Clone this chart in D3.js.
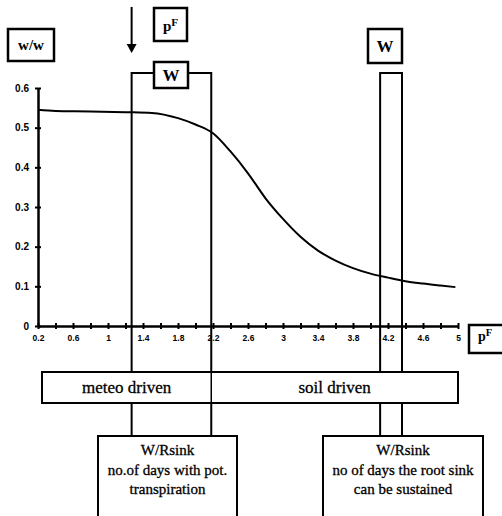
<!DOCTYPE html>
<html><head><meta charset="utf-8">
<script src="https://cdn.jsdelivr.net/npm/d3@7/dist/d3.min.js"></script>
<style>body{margin:0;background:#fff}svg{display:block}</style>
</head><body>
<script>
// ---- data ----
const pF = [0.2,0.4,0.8,1.2,1.5,1.8,2.0,2.2,2.4,2.6,2.8,3.0,3.2,3.4,3.6,3.8,4.0,4.2,4.4,4.6,4.8,4.97];
const ww = [0.545,0.542,0.541,0.539,0.537,0.524,0.508,0.486,0.44,0.385,0.322,0.27,0.225,0.19,0.165,0.146,0.132,0.122,0.113,0.107,0.102,0.098];
const xTickValues = d3.range(0,25).map(i => +(0.2 + i*0.2).toFixed(1));
const xTickLabels = ["0.2","0.6","1","1.4","1.8","2.2","2.6","3","3.4","3.8","4.2","4.6","5"];
const yTickValues = [0,0.1,0.2,0.3,0.4,0.5,0.6];
const yTickLabels = ["0","0.1","0.2","0.3","0.4","0.5","0.6"];
const wWindows = [[1.27,2.18],[4.11,4.36]];   // pF ranges of the two W windows
const bandSplit = 2.18;
const bandLabels = ["meteo driven","soil driven"];
const leftBoxLines = ["W/Rsink","no.of days with pot.","transpiration"];
const rightBoxLines = ["W/Rsink","no of days the root sink","can be sustained"];

const W = 502, H = 516;
const svg = d3.select("body").append("svg").attr("width",W).attr("height",H);
const x = d3.scaleLinear().domain([0.2,5.0]).range([38,458]);
const y = d3.scaleLinear().domain([0,0.6]).range([326,88]);
const serif = "'Liberation Serif','Times New Roman',serif";
const sans = "'Liberation Sans',Arial,sans-serif";

const topY = 73, botY = 436;
wWindows.forEach(([a,b]) => {
  svg.append("path")
    .attr("d", `M${x(a)},${botY}V${topY}H${x(b)}V${botY}`)
    .attr("fill","none").attr("stroke","#000").attr("stroke-width",2);
});

const gx = svg.append("g").attr("transform",`translate(0,${y(0)})`)
  .call(d3.axisBottom(x).tickValues(xTickValues).tickSize(0).tickPadding(9)
    .tickFormat(d => { const i = xTickLabels.findIndex(l => Math.abs(+l - d) < 1e-6); return i >= 0 ? xTickLabels[i] : ""; }));
gx.select(".domain").attr("stroke-width",2.5);
gx.selectAll(".tick").append("line").attr("y1",-3).attr("y2",3).attr("stroke","#000").attr("stroke-width",2);
gx.selectAll("text").attr("font-family",sans).attr("font-weight","bold").attr("font-size",8.5).attr("fill","#000");

const gy = svg.append("g").attr("transform",`translate(${x(0.2)},0)`)
  .call(d3.axisLeft(y).tickValues(yTickValues).tickSize(0).tickPadding(9)
    .tickFormat((d,i) => yTickLabels[i]));
gy.select(".domain").attr("stroke-width",2.5);
gy.selectAll(".tick").append("line").attr("x1",-3).attr("x2",3).attr("stroke","#000").attr("stroke-width",2);
gy.selectAll("text").attr("font-family",sans).attr("font-weight","bold").attr("font-size",10).attr("fill","#000");

const line = d3.line().x((d,i)=>x(pF[i])).y(d=>y(d)).curve(d3.curveMonotoneX);
svg.append("path").attr("d", line(ww)).attr("fill","none").attr("stroke","#000").attr("stroke-width",2);

const gBoxes = svg.append("g");
function frame(x0,y0,w,h){
  gBoxes.append("rect").attr("x",x0).attr("y",y0).attr("width",w).attr("height",h)
    .attr("fill","#fff").attr("stroke","#000").attr("stroke-width",2.5);
}
function pFText(cx,cy,size){
  const t = gBoxes.append("text").attr("x",cx).attr("y",cy+size*0.4).attr("text-anchor","middle")
    .attr("font-family",serif).attr("font-weight","bold").attr("font-size",size);
  t.append("tspan").text("p");
  t.append("tspan").attr("dy",-size*0.3).attr("font-size",size*0.75).text("F");
}
function bigText(cx,cy,txt,size){
  gBoxes.append("text").attr("x",cx).attr("y",cy+size*0.35).attr("text-anchor","middle")
    .attr("font-family",serif).attr("font-weight","bold").attr("font-size",size).text(txt);
}
frame(8,29,46,32);   bigText(31,45,"w/w",15);
frame(154,8,33,33);  pFText(170.5,24.5,15);
frame(154,62,34,26); bigText(171,75,"W",17);
frame(368,29,34,34); bigText(385,46,"W",17);
frame(469,325,40,28); pFText(485,335,14);

svg.append("line").attr("x1",x(1.27)).attr("x2",x(1.27)).attr("y1",7).attr("y2",46)
  .attr("stroke","#000").attr("stroke-width",2);
svg.append("path").attr("d",`M${x(1.27)-5},44L${x(1.27)+5},44L${x(1.27)},53Z`).attr("fill","#000");

const bandY = 372, bandH = 31;
svg.append("rect").attr("x",x(0.2)+4).attr("y",bandY).attr("width",x(5.0)-x(0.2)-4).attr("height",bandH)
  .attr("fill","#fff").attr("stroke","#000").attr("stroke-width",2);
svg.append("line").attr("x1",x(bandSplit)).attr("x2",x(bandSplit)).attr("y1",bandY).attr("y2",bandY+bandH)
  .attr("stroke","#000").attr("stroke-width",1.5);
[[x(0.2)+4,x(bandSplit)],[x(bandSplit),x(5.0)]].forEach(([a,b],i)=>{
  svg.append("text").attr("x",(a+b)/2).attr("y",bandY+bandH/2+5).attr("text-anchor","middle")
    .attr("font-family",serif).attr("font-size",17).attr("stroke","#000").attr("stroke-width",0.3)
    .text(bandLabels[i]);
});

function textBox(x0,x1,lines){
  svg.append("rect").attr("x",x0).attr("y",botY).attr("width",x1-x0).attr("height",H-botY+4)
    .attr("fill","#fff").attr("stroke","#000").attr("stroke-width",2);
  lines.forEach((l,i)=>svg.append("text").attr("x",(x0+x1)/2).attr("y",455+i*19.5)
    .attr("text-anchor","middle").attr("font-family",serif).attr("font-size",15)
    .attr("stroke","#000").attr("stroke-width",0.3).text(l));
}
textBox(98,237,leftBoxLines);
textBox(323,483,rightBoxLines);
</script>
</body></html>
